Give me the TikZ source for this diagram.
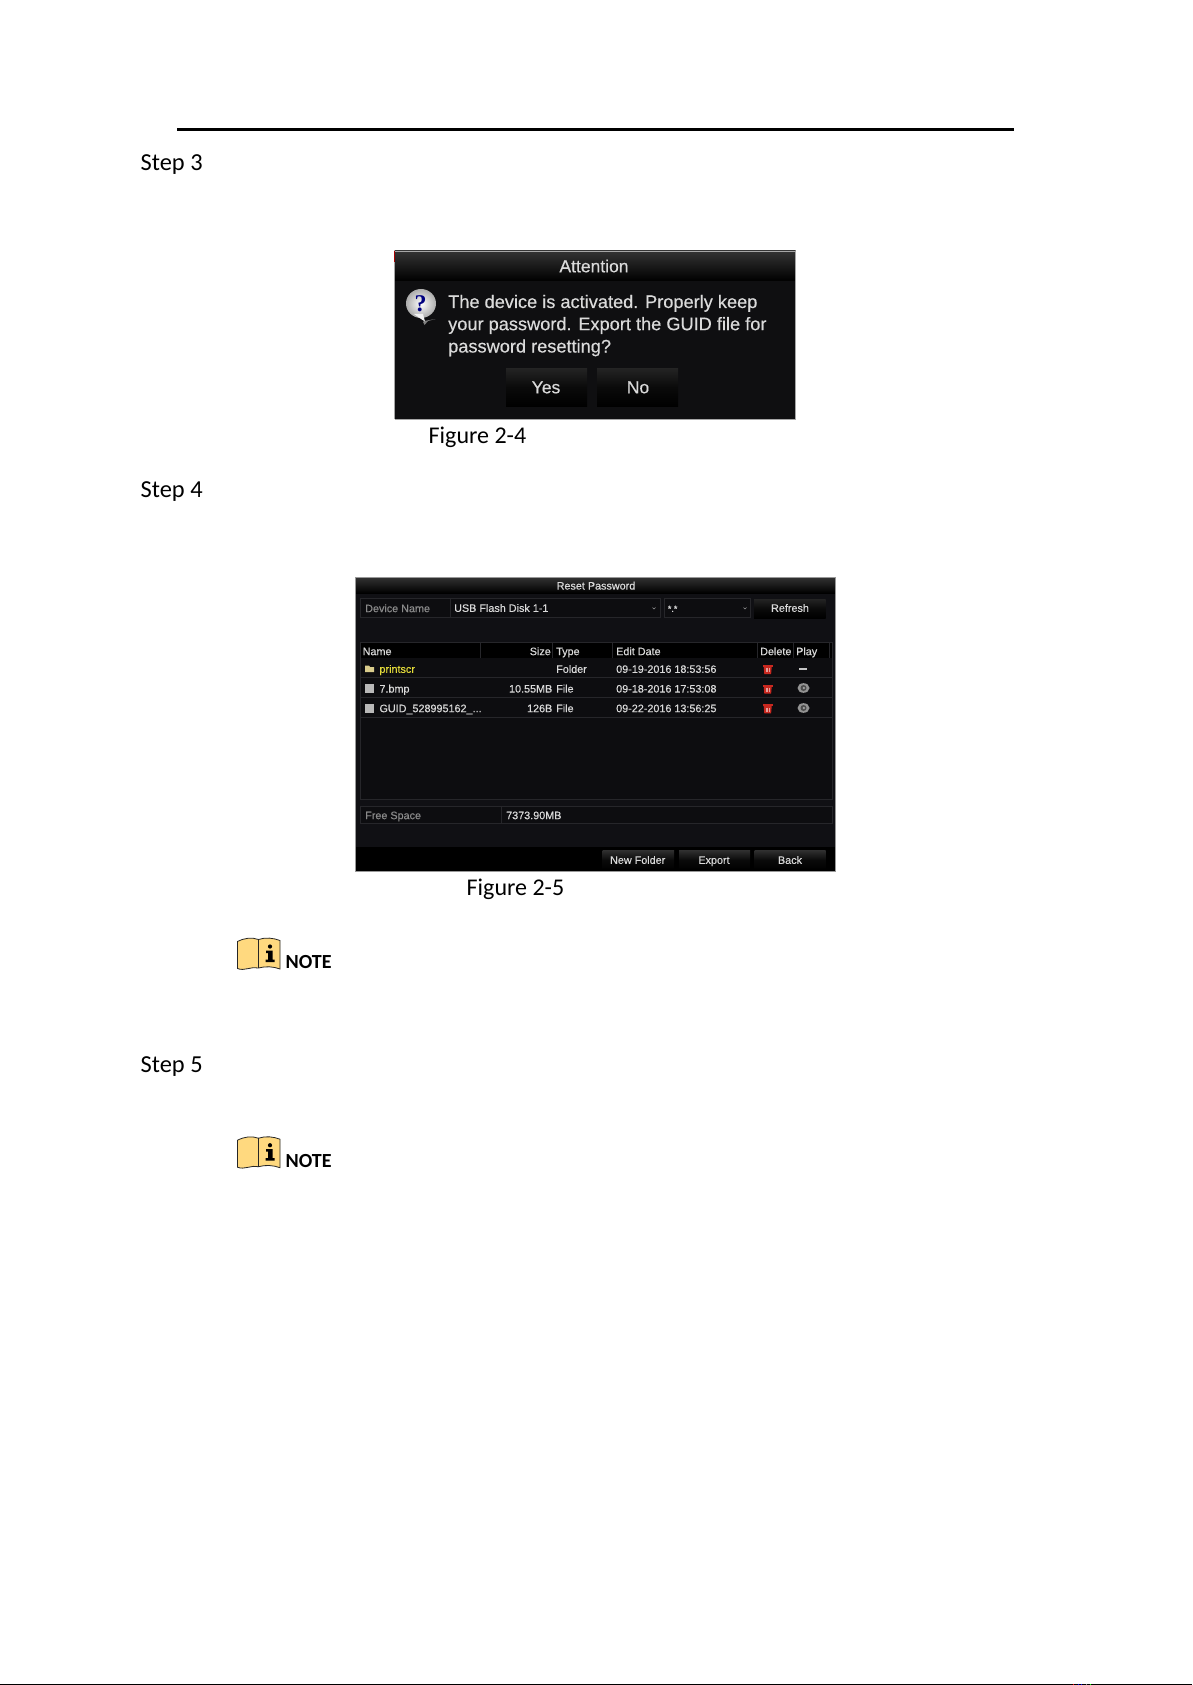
\documentclass[tikz,border=0pt]{standalone}
\usepackage{fontspec}
\setmainfont{Carlito}
\newfontfamily\uifont[FakeBold=0.35]{Liberation Sans}
\newfontfamily\iconfont{Liberation Serif}
\definecolor{panel}{HTML}{101014}
\definecolor{attnbg}{HTML}{0F0F11}
\definecolor{folderc}{HTML}{D9CC8C}
\definecolor{fieldbg}{HTML}{0D0D10}
\definecolor{edge}{HTML}{26262A}
\definecolor{uitext}{HTML}{DADADA}
\definecolor{dimtext}{HTML}{8A8A8A}
\definecolor{booky}{HTML}{FFD97F}
\definecolor{trash}{HTML}{C8281F}
\tikzset{x=1pt,y=-1pt,
  doc/.style={inner sep=0pt,anchor=base west,font=\fontsize{24.4}{24.4}\selectfont,text=black},
  notelabel/.style={inner sep=0pt,anchor=base west,font=\fontsize{20}{20}\selectfont\bfseries,text=black},
  dlg/.style={inner sep=0pt,anchor=base west,font=\uifont\fontsize{18.2}{18.2}\selectfont,text=uitext},
  dlgc/.style={inner sep=0pt,anchor=center,text height=12.6pt,text depth=0pt,font=\uifont\fontsize{17.5}{17.5}\selectfont,text=uitext},
  ui/.style={inner sep=0pt,anchor=west,text height=7.7pt,text depth=0pt,font=\uifont\fontsize{10.8}{10.8}\selectfont,text=uitext},
  uic/.style={ui,anchor=center},
  uir/.style={ui,anchor=east},
  uidim/.style={ui,text=dimtext},
  field/.style={draw=edge,line width=0.7pt,fill=fieldbg},
  btn/.style={draw=none,top color=#1,bottom color=black,middle color=black!96!white},
  btn/.default={black!86!white},
  rowline/.style={draw=edge,line width=0.8pt},
  hdrsep/.style={draw=edge,line width=0.8pt},
  bookline/.style={draw=black!85,line width=0.8pt,fill=booky,line join=miter},
}
\newcommand{\noteicon}[2]{%
  \begin{scope}[shift={(#1,#2)}]
    \path[bookline] (0,4.5) .. controls (7,1) and (14,0) .. (21,2.5) .. controls (28,0) and (36,1) .. (42.5,3.5)
      -- (42.5,32) .. controls (36,29.5) and (28,29) .. (21,31) .. controls (14,29) and (7,34.5) .. (0,31.5) -- cycle;
    \draw[black!85,line width=0.8pt] (21,2.5) -- (21,31);
    \fill[black] (32.5,9.5) circle (2.1);
    \path[fill=black] (28.5,13.5) -- (35,13.5) -- (35,22.5) -- (37,22.5) -- (37,25) -- (28,25) -- (28,22.5) -- (30.5,22.5) -- (30.5,16) -- (28.5,16) -- cycle;
  \end{scope}}
\newcommand{\trashicon}[2]{%
  \begin{scope}[shift={(#1,#2)}]
    \fill[trash] (-5,-4) rectangle (5,-2.2);
    \fill[trash] (-4,-2.2) -- (4,-2.2) -- (3.4,5) -- (-3.4,5) -- cycle;
    \fill[white!55!trash] (-2,-0.8) rectangle (-1.3,3.4);
    \fill[white!55!trash] (-0.35,-0.8) rectangle (0.35,3.4);
    \fill[white!55!trash] (1.3,-0.8) rectangle (2,3.4);
  \end{scope}}
\newcommand{\eyeicon}[2]{%
  \begin{scope}[shift={(#1,#2)}]
    \fill[gray!85] (0,0) ellipse (6 and 4.8);
    \fill[black!70] (0,0) circle (3);
    \fill[gray!70] (0.3,0) circle (1.3);
  \end{scope}}
\begin{document}
\begin{tikzpicture}
\useasboundingbox (0,0) rectangle (1192,1685);
\fill[white] (0,0) rectangle (1192,1685);
% page furniture
\coordinate (hl) at (177,129.7); \coordinate (hr) at (1014,129.7);
\draw[black,line width=2.6pt] (hl) -- (hr);
\coordinate (fl) at (0,1684.5); \coordinate (fr) at (1192,1684.5);
\draw[black,line width=1.2pt] (fl) -- (fr);
\foreach \xx/\cc in {1073/red,1078/blue,1081/blue,1086/gray,1090/green}{\fill[\cc] (\xx,1684) rectangle ++(1.4,1);}
\node[doc] (step3) at (140.5,170.8) {Step 3};
\node[doc] (step4) at (140.5,497) {Step 4};
\node[doc] (step5) at (140.5,1072.3) {Step 5};
\node[doc,font=\fontsize{24}{24}\selectfont] (fig4) at (428.5,443) {Figure 2-4};
\node[doc,font=\fontsize{24}{24}\selectfont] (fig5) at (466.5,895) {Figure 2-5};
% Attention dialog
\fill[attnbg] (394.5,251) rectangle (795.7,419);
\shade[top color=black!80,bottom color=black] (394.5,251) rectangle (795.7,281);
\draw[gray!70,line width=1pt] (394.5,419) -- (795.7,419);
\draw[gray!70,line width=0.6pt] (795.7,251) -- (795.7,419) (394.5,251) -- (795.7,251) (394.5,251) -- (394.5,419);
\draw[red!65!black,line width=0.8pt] (394.7,251) -- (394.7,262);
\node[dlgc] (atitle) at (594,266) {Attention};
\fill[gray] (435.5,319) -- (424,321) -- (423,322) -- (424.5,325) -- (428,321) -- cycle;
\shade[inner color=white,outer color=gray!65] (421,303.5) ellipse (15 and 14.5);
\fill[white!90!gray] (414,314) -- (423,314) -- (425,321.5) -- (421,319) -- cycle;
\node[inner sep=0pt,font=\iconfont\bfseries\fontsize{24}{24}\selectfont,text=blue!50!black] (qm) at (420.5,303.5) {?};
\node[dlg] (l1) at (448,308) {The device is activated. Properly keep};
\node[dlg] (l2) at (448,330.2) {your password. Export the GUID file for};
\node[dlg] (l3) at (448,352.5) {password resetting?};
\shade[btn] (506,368) rectangle (587,406);
\shade[btn] (597,368) rectangle (678,406);
\node[dlgc] (yes) at (546,387) {Yes};
\node[dlgc] (no) at (638,387) {No};
% Reset Password dialog
\fill[panel] (355.7,577) rectangle (835.7,871.7);
\shade[top color=black!80,bottom color=black] (355.7,577) rectangle (835.7,593);
\draw[gray!80,line width=0.8pt] (355.7,577) -- (835.7,577) -- (835.7,871.7) -- (355.7,871.7) -- cycle;
\node[uic] (rtitle) at (596,585.7) {Reset Password};
\path[field] (360.7,598) rectangle (450,617.7);
\path[field] (450,598) rectangle (660,617.7);
\path[field] (664,598) rectangle (750.7,617.7);
\shade[btn] (754,599) rectangle (825.7,618);
\node[uidim] (dname) at (365,608.3) {Device Name};
\node[ui] (usb) at (454,608) {USB Flash Disk 1-1};
\node[ui,font=\uifont\fontsize{9}{9}\selectfont] (ext) at (667.7,608) {*.*};
\draw[gray!80,line width=0.6pt] (652.5,607.5) -- (654,609) -- (655.5,607.5);
\draw[gray!80,line width=0.6pt] (743.5,607.5) -- (745,609) -- (746.5,607.5);
\node[uic] (refresh) at (790,608) {Refresh};
% table
\path[field] (360.7,642.7) rectangle (832.3,799.3);
\fill[black] (361,643) rectangle (832,658);
\foreach \xx in {480,552,612,757,793,829}{\draw[hdrsep] (\xx,643) -- (\xx,658);}
\node[ui] (hname) at (362.5,651.3) {Name};
\node[uir] (hsize) at (551,651.3) {Size};
\node[ui] (htype) at (556,651.3) {Type};
\node[ui] (hdate) at (616,651.3) {Edit Date};
\node[ui] (hdel) at (760,651.3) {Delete};
\node[ui] (hplay) at (796,651.3) {Play};
\draw[rowline] (361,677.3) -- (832,677.3);
\draw[rowline] (361,697.2) -- (832,697.2);
\draw[rowline] (361,717.3) -- (832,717.3);
% row 1
\fill[folderc] (365,665.5) -- (369,665.5) -- (370,667) -- (374,667) -- (374,672) -- (365,672) -- cycle;
\node[ui,text=yellow!75!gray] (r1n) at (379.3,669) {printscr};
\node[ui] (r1t) at (556,669) {Folder};
\node[ui] (r1d) at (616,669) {09-19-2016 18:53:56};
\trashicon{767.7}{669}
\fill[gray!45] (799,668.2) rectangle (807,670.2);
% row 2
\fill[gray!55] (365,684) rectangle (373.5,692.5);
\node[ui] (r2n) at (379.3,688.7) {7.bmp};
\node[uir] (r2s) at (552.5,688.7) {10.55MB};
\node[ui] (r2t) at (556,688.7) {File};
\node[ui] (r2d) at (616,688.7) {09-18-2016 17:53:08};
\trashicon{767.7}{688.7}
\eyeicon{803.5}{688}
% row 3
\fill[gray!55] (365,704) rectangle (373.5,712.5);
\node[ui] (r3n) at (379.3,708.3) {GUID\_528995162\_...};
\node[uir] (r3s) at (552.5,708.3) {126B};
\node[ui] (r3t) at (556,708.3) {File};
\node[ui] (r3d) at (616,708.3) {09-22-2016 13:56:25};
\trashicon{767.7}{708.3}
\eyeicon{803.5}{708}
% free space
\path[field] (360.7,806) rectangle (832.3,823.3);
\draw[rowline] (501.7,806) -- (501.7,823.3);
\node[uidim] (fs) at (365,815.3) {Free Space};
\node[ui] (fsv) at (506,815.3) {7373.90MB};
% bottom band
\fill[black] (356,847.3) rectangle (835.4,871.4);
\shade[btn=black!82] (602.7,850.7) rectangle (674,869.3);
\shade[btn=black!82] (679,850.7) rectangle (750,869.3);
\shade[btn=black!82] (754.7,850.7) rectangle (825.7,869.3);
\node[uic] (bnew) at (637.7,860) {New Folder};
\node[uic] (bexp) at (714,860) {Export};
\node[uic] (bback) at (790,860) {Back};
% notes
\noteicon{237.5}{937}
\node[notelabel] (n1) at (285.5,968.3) {NOTE};
\noteicon{237.5}{1135.7}
\node[notelabel] (n2) at (285.5,1167) {NOTE};
\end{tikzpicture}
\end{document}
